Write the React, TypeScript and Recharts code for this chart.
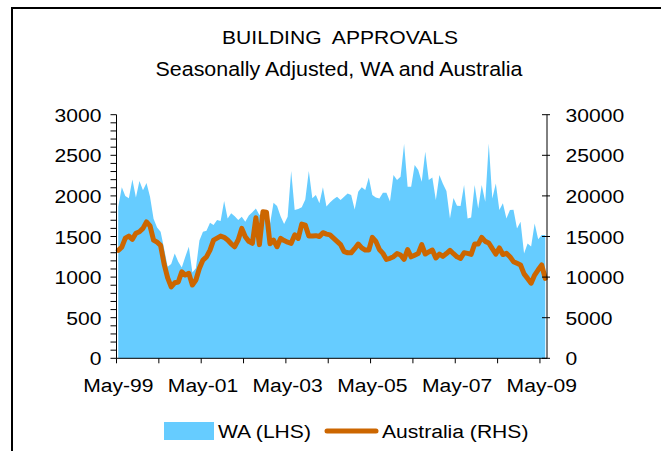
import { ComposedChart, Area, Line, XAxis, YAxis } from "recharts";

// Monthly building approvals, May-99 .. Jun-09
const WA = [
  1866, 2105, 2000, 1970, 2203, 1980, 2185, 2070, 2160, 1990,
  1720, 1610, 1560, 1350, 1128, 1160, 1292, 1189, 1118, 1251,
  1374, 1056, 1108, 1450, 1559, 1571, 1670, 1641, 1702, 1690,
  1936, 1723, 1785, 1750, 1702, 1743, 1682, 1760, 1800, 1846,
  1764, 1805, 1700, 1653, 1915, 1875, 1750, 1653, 1743, 2306,
  1825, 1840, 1859, 1957, 2306, 1970, 2010, 1908, 2105, 1870,
  1920, 1960, 1990, 1950, 1990, 2031, 2010, 1834, 2051, 2105,
  2072, 2228, 2010, 1980, 1969, 2039, 2039, 1930, 2256, 2195,
  2236, 2638, 2113, 2113, 2380, 2318, 2174, 2543, 2195, 2228,
  1949, 2256, 2150, 2060, 1723, 1975, 1880, 1876, 2133, 1723,
  1735, 2133, 1846, 2133, 1928, 2646, 1969, 2154, 1825, 1908,
  1723, 1825, 1830, 1600, 1682, 1292, 1415, 1378, 1661, 1466,
  1518, 1518,
];

const AUSTRALIA = [
  13300, 13700, 14800, 15050, 14650, 15400, 15590, 16000, 16800, 16300,
  14560, 14300, 13900, 11600, 9900, 8800, 9300, 9400, 10660, 10250,
  10460, 9020, 9640, 11080, 12100, 12500, 13330, 14560, 14800, 15050,
  14900, 14560, 14100, 13740, 14600, 16000, 14970, 14400, 14160, 17300,
  14000, 18050, 18000, 14100, 14560, 13740, 14770, 14500, 14300, 14160,
  15200, 14770, 16530, 16400, 15050, 15050, 15100, 15000, 15470, 15300,
  15200, 14800, 14400, 14000, 13130, 13000, 13000, 13500, 14070, 13600,
  13330, 13330, 14890, 14400, 13400, 12920, 12180, 12310, 12510, 12900,
  12720, 12180, 13400, 12500, 12700, 12900, 14000, 12840, 13100, 13330,
  12350, 12840, 12550, 12900, 13300, 12880, 12500, 12310, 13000, 12920,
  12800, 14070, 14070, 14890, 14400, 14200, 13500, 12840, 13600, 12780,
  12920, 12510, 11900, 11700, 11490, 10400, 9840, 9250, 10250, 10900,
  11490, 9840,
];

const YEAR_LABELS = ["May-99", "May-01", "May-03", "May-05", "May-07", "May-09"];
const LEFT_TICKS = Array.from({ length: 31 }, (_, i) => i * 100);
const RIGHT_TICKS = [0, 5000, 10000, 15000, 20000, 25000, 30000];
// yearly tick marks sit on the boundaries between monthly categories
const X_TICKS = Array.from({ length: 11 }, (_, i) => i * 12 - 0.5);
const SERIES_NAMES = ["WA (LHS)", "Australia (RHS)"];
const TITLE = "BUILDING APPROVALS";
const SUBTITLE = "Seasonally Adjusted, WA and Australia";

const BLUE = "#66CCFF";
const ORANGE = "#CC6600";
const FONT = "'Liberation Sans', Arial, sans-serif";
const SX = 1.11; // the source picture is stretched horizontally

const data = WA.map((wa, i) => ({ i, wa, aus: AUSTRALIA[i] }));

function Txt({ x, y, size = 19, anchor = "start", spacing = 0, children }: any) {
  return (
    <text
      transform={`translate(${x} ${y}) scale(${SX} 1)`}
      textAnchor={anchor}
      fontSize={size}
      fontFamily={FONT}
      wordSpacing={spacing}
      fill="#000"
    >
      {children}
    </text>
  );
}

function LeftTick({ x, y, payload }: any) {
  const v = payload.value;
  return (
    <g>
      <line x1={x - 6} x2={x} y1={y} y2={y} stroke="#000" />
      {v % 500 === 0 && (
        <Txt x={x - 15} y={y + 7} anchor="end">
          {v}
        </Txt>
      )}
    </g>
  );
}

function RightTick({ x, y, payload }: any) {
  return (
    <g>
      <line x1={x - 5} x2={x + 3} y1={y} y2={y} stroke="#000" />
      <Txt x={x + 18.5} y={y + 7}>
        {payload.value}
      </Txt>
    </g>
  );
}

function BottomTick({ x, y, payload }: any) {
  const k = Math.round((payload.value + 0.5) / 12);
  return (
    <g>
      <line x1={x} x2={x} y1={y} y2={y + 5} stroke="#000" />
      {k % 2 === 0 && (
        <Txt x={x + 1.8} y={y + 34} anchor="middle">
          {YEAR_LABELS[k / 2]}
        </Txt>
      )}
    </g>
  );
}

export default function App() {
  return (
    <div style={{ position: "absolute", left: 0, top: 0, width: 661, height: 451, background: "#fff" }}>
      <ComposedChart width={661} height={451} data={data} margin={{ top: 114.7, right: 0, bottom: 0, left: 0 }}>
        <Area
          yAxisId="l"
          dataKey="wa"
          type="linear"
          stroke="none"
          fill={BLUE}
          fillOpacity={1}
          isAnimationActive={false}
        />
        <Line
          yAxisId="r"
          dataKey="aus"
          type="linear"
          stroke={ORANGE}
          strokeWidth={5}
          strokeLinejoin="round"
          strokeLinecap="round"
          dot={false}
          activeDot={false}
          isAnimationActive={false}
        />
        <XAxis
          dataKey="i"
          type="number"
          domain={[-0.5, 121.5]}
          ticks={X_TICKS}
          interval={0}
          height={92.7}
          tickSize={0}
          tickMargin={0}
          tickLine={false}
          tick={<BottomTick />}
          axisLine={{ stroke: "#000" }}
        />
        <YAxis
          yAxisId="l"
          domain={[0, 3000]}
          ticks={LEFT_TICKS}
          interval={0}
          width={116.5}
          tickSize={0}
          tickMargin={0}
          tickLine={false}
          tick={<LeftTick />}
          axisLine={{ stroke: "#000" }}
        />
        <YAxis
          yAxisId="r"
          orientation="right"
          domain={[0, 30000]}
          ticks={RIGHT_TICKS}
          interval={0}
          width={114}
          tickSize={0}
          tickMargin={0}
          tickLine={false}
          tick={<RightTick />}
          axisLine={{ stroke: "#000" }}
        />
      </ComposedChart>
      <svg
        width={661}
        height={451}
        style={{ position: "absolute", left: 0, top: 0, pointerEvents: "none" }}
      >
        <path d="M12 451 V8 H661" stroke="#000" strokeWidth={2} fill="none" />
        <Txt x={340} y={44} size={19} anchor="middle" spacing={5}>
          {TITLE}
        </Txt>
        <Txt x={339} y={76} size={19.3} anchor="middle">
          {SUBTITLE}
        </Txt>
        <rect x={164} y={422} width={50} height={18} fill={BLUE} />
        <Txt x={218} y={438}>
          {SERIES_NAMES[0]}
        </Txt>
        <line x1={327} x2={376} y1={431} y2={431} stroke={ORANGE} strokeWidth={5} strokeLinecap="round" />
        <Txt x={382} y={438}>
          {SERIES_NAMES[1]}
        </Txt>
      </svg>
    </div>
  );
}
